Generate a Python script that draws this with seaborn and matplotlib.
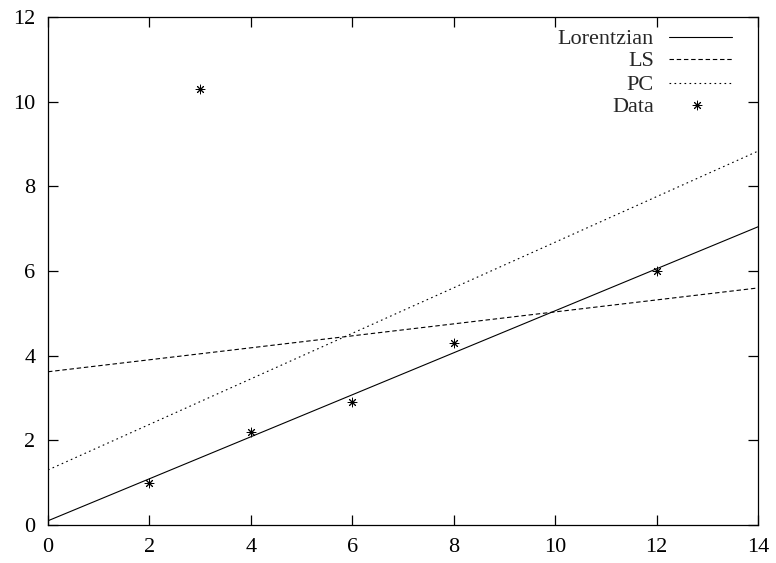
import numpy as np
import pandas as pd
import matplotlib
matplotlib.use('Agg')
import matplotlib.pyplot as plt
import seaborn as sns

# data points
data_x = [2, 3, 4, 6, 8, 12]
data_y = [1.0, 10.3, 2.2, 2.9, 4.3, 6.0]

# fitted lines (intercept, slope)
fit_names = ['Lorentzian', 'LS', 'PC']
fit_intercepts = [0.10, 3.62, 1.30]
fit_slopes = [0.496, 0.1414, 0.538]
fit_styles = ['-', (0, (4, 2.5)), (0, (1.5, 3))]

x_ticks = [0, 2, 4, 6, 8, 10, 12, 14]
y_ticks = [0, 2, 4, 6, 8, 10, 12]

FS = 16


def main():
    sns.set_style('ticks')
    plt.rcParams['font.family'] = ['Liberation Serif', 'DejaVu Serif']
    plt.rcParams['font.size'] = FS

    fig = plt.figure(figsize=(7.76, 5.63), dpi=100)
    ax = fig.add_axes([48 / 776, 38 / 563, 710 / 776, 508 / 563])

    xs = np.linspace(0, 14, 50)
    for name, b, m, ls in zip(fit_names, fit_intercepts, fit_slopes, fit_styles):
        df = pd.DataFrame({'x': xs, 'y': b + m * xs})
        sns.lineplot(data=df, x='x', y='y', ax=ax, color='black', lw=0.8,
                     linestyle=ls)

    pts = pd.DataFrame({'x': data_x, 'y': data_y})
    sns.scatterplot(data=pts, x='x', y='y', ax=ax, marker=(8, 2, 0), s=40,
                    color='black', linewidth=0.7, zorder=5)

    ax.set_xlim(0, 14)
    ax.set_ylim(0, 12)
    ax.set_xticks(x_ticks)
    ax.set_yticks(y_ticks)
    ax.set_xlabel('')
    ax.set_ylabel('')
    for s in ax.spines.values():
        s.set_visible(True)
        s.set_linewidth(0.9)
        s.set_color('black')
    ax.tick_params(direction='in', length=7, width=0.9, top=True, right=True,
                   labelsize=FS, pad=9, colors='black')

    # gnuplot-style key: labels right-aligned, samples on the right
    rows = [0.9608, 0.9183, 0.871, 0.8268]
    for i, (name, ls) in enumerate(zip(fit_names, fit_styles)):
        ax.text(0.8535, rows[i], name, ha='right', va='center_baseline',
                transform=ax.transAxes, fontsize=FS)
        ax.plot([0.874, 0.963], [rows[i], rows[i]], transform=ax.transAxes,
                color='black', lw=0.8, linestyle=ls)
    ax.text(0.8535, rows[3], 'Data', ha='right', va='center_baseline',
            transform=ax.transAxes, fontsize=FS)
    ax.scatter([0.914], [rows[3]], transform=ax.transAxes, marker=(8, 2, 0),
               s=40, color='black', linewidth=0.7)

    fig.savefig('out.png', dpi=100)
    plt.close(fig)


if __name__ == '__main__':
    main()
